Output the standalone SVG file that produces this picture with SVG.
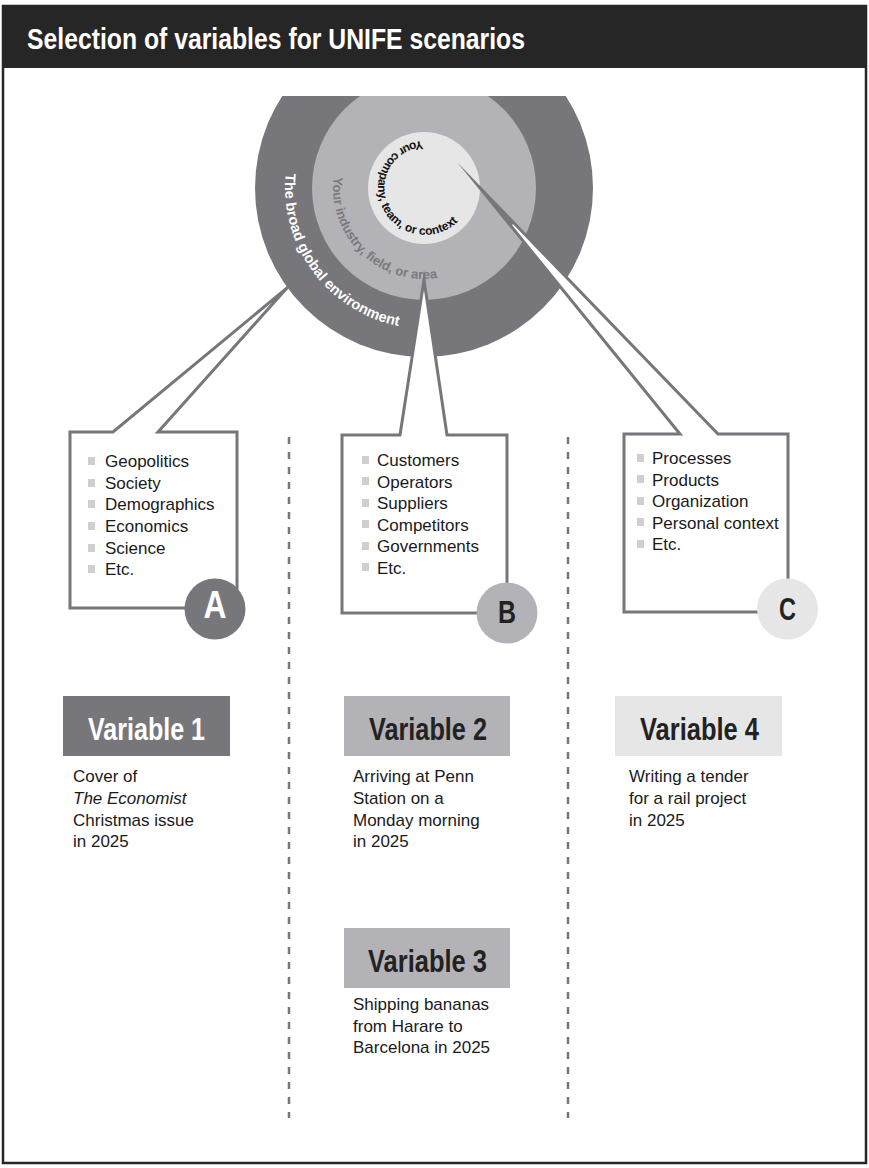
<svg xmlns="http://www.w3.org/2000/svg" width="869" height="1168" viewBox="0 0 869 1168">
<style>
.frame{fill:none;stroke:#262626;stroke-width:2.5}
.hdr{fill:#262626}
.title{font-family:"Liberation Sans",Arial,sans-serif;font-weight:bold;font-size:30px;fill:#ffffff}
.dark{fill:#77767a}
.mid{fill:#b3b2b6}
.light{fill:#e6e6e7}
.box{fill:#ffffff;stroke:#77767a;stroke-width:3;stroke-linejoin:miter;stroke-miterlimit:30}
.item{font-family:"Liberation Sans",Arial,sans-serif;font-size:17px;fill:#1a1a1a}
.bul{fill:#cfcfd0}
.desc{font-family:"Liberation Sans",Arial,sans-serif;font-size:17px;fill:#1a1a1a}
.vlab{font-family:"Liberation Sans",Arial,sans-serif;font-weight:bold;font-size:32px}
.letter{font-family:"Liberation Sans",Arial,sans-serif;font-weight:bold;text-anchor:middle}
.dash{stroke:#77767a;stroke-width:2.5;stroke-dasharray:7 8;fill:none}
.ring1{font-family:"Liberation Sans",Arial,sans-serif;font-weight:bold;font-size:14.5px;fill:#ffffff}
.ring2{font-family:"Liberation Sans",Arial,sans-serif;font-weight:bold;font-size:13px;fill:#7a797d}
.ring3{font-family:"Liberation Sans",Arial,sans-serif;font-weight:bold;font-size:12px;fill:#111111}
</style>
<defs>
<clipPath id="clipTop"><rect x="0" y="96" width="869" height="400"/></clipPath>
<path id="pOuter" d="M285.8,173.3 A141,141 0 0 0 448.5,326.9" fill="none"/>
<path id="pMid" d="M333.7,176.9 A91,91 0 0 0 455.1,273.5" fill="none"/>
<path id="pIn" d="M422.4,141.0 A47,47 0 1 0 469.2,204.1" fill="none"/>
<rect id="b" width="7" height="8" class="bul"/>
</defs>

<g id="frame">
<rect class="frame" x="3" y="6" width="863" height="1157"/>
<rect class="hdr" x="2" y="5" width="865" height="63"/>
<text class="title" x="27" y="49" textLength="498" lengthAdjust="spacingAndGlyphs">Selection of variables for UNIFE scenarios</text>
</g>

<g id="circles" clip-path="url(#clipTop)">
<circle class="dark" cx="424" cy="188" r="169"/>
<circle class="mid" cx="424" cy="188" r="112"/>
<circle class="light" cx="424" cy="188" r="56"/>
</g>
<g id="circle-labels">
<text class="ring1"><textPath href="#pOuter">The broad global environment</textPath></text>
<text class="ring2"><textPath href="#pMid">Your industry, field, or area</textPath></text>
<text class="ring3"><textPath href="#pIn">Your company, team, or context</textPath></text>
</g>

<g id="connectors">
<line class="dash" x1="289" y1="437" x2="289" y2="1118"/>
<line class="dash" x1="568" y1="437" x2="568" y2="1118"/>
</g>

<g id="boxA">
<path class="box" d="M113,432 L70,432 L70,608 L237,608 L237,432 L158,432 L287,288 Z"/>
<use href="#b" x="88" y="457"/><text class="item" x="105" y="467">Geopolitics</text>
<use href="#b" x="88" y="479"/><text class="item" x="105" y="489">Society</text>
<use href="#b" x="88" y="500"/><text class="item" x="105" y="510">Demographics</text>
<use href="#b" x="88" y="522"/><text class="item" x="105" y="532">Economics</text>
<use href="#b" x="88" y="544"/><text class="item" x="105" y="554">Science</text>
<use href="#b" x="88" y="565"/><text class="item" x="105" y="575">Etc.</text>
<circle class="dark" cx="215" cy="609" r="30.5"/>
<text class="letter" x="215" y="618" font-size="38" fill="#ffffff" textLength="23" lengthAdjust="spacingAndGlyphs">A</text>
</g>

<g id="boxB">
<path class="box" d="M400,435 L342,435 L342,613 L507,613 L507,435 L447,435 L424,280 Z"/>
<use href="#b" x="362" y="456"/><text class="item" x="377" y="466">Customers</text>
<use href="#b" x="362" y="477"/><text class="item" x="377" y="487.5">Operators</text>
<use href="#b" x="362" y="499"/><text class="item" x="377" y="509">Suppliers</text>
<use href="#b" x="362" y="520"/><text class="item" x="377" y="530.5">Competitors</text>
<use href="#b" x="362" y="542"/><text class="item" x="377" y="552">Governments</text>
<use href="#b" x="362" y="563"/><text class="item" x="377" y="573.5">Etc.</text>
<circle class="mid" cx="507" cy="613" r="30.5"/>
<text class="letter" x="507" y="623" font-size="32" fill="#222222" textLength="18" lengthAdjust="spacingAndGlyphs">B</text>
</g>

<g id="boxC">
<path class="box" d="M680,434 L624,434 L624,612 L788,612 L788,434 L718,434 L480,188 Z"/>
<polygon class="dark" points="479,186.5 481.5,188 514,224 509,226"/>
<use href="#b" x="637" y="454"/><text class="item" x="652" y="464">Processes</text>
<use href="#b" x="637" y="475"/><text class="item" x="652" y="485.5">Products</text>
<use href="#b" x="637" y="497"/><text class="item" x="652" y="507">Organization</text>
<use href="#b" x="637" y="518"/><text class="item" x="652" y="528.5">Personal context</text>
<use href="#b" x="637" y="540"/><text class="item" x="652" y="550">Etc.</text>
<circle class="light" cx="787.5" cy="609" r="30.5"/>
<text class="letter" x="787.5" y="620" font-size="32" fill="#222222" textLength="17" lengthAdjust="spacingAndGlyphs">C</text>
</g>

<g id="variable1">
<rect class="dark" x="63" y="696" width="167" height="60"/>
<text class="vlab" x="88" y="740" fill="#ffffff" textLength="117" lengthAdjust="spacingAndGlyphs">Variable 1</text>
<text class="desc" x="73" y="782">Cover of</text>
<text class="desc" x="73" y="804" font-style="italic">The Economist</text>
<text class="desc" x="73" y="826">Christmas issue</text>
<text class="desc" x="73" y="847">in 2025</text>
</g>

<g id="variable2">
<rect class="mid" x="344" y="696" width="166" height="60"/>
<text class="vlab" x="369" y="740" fill="#222222" textLength="118" lengthAdjust="spacingAndGlyphs">Variable 2</text>
<text class="desc" x="353" y="782">Arriving at Penn</text>
<text class="desc" x="353" y="804">Station on a</text>
<text class="desc" x="353" y="826">Monday morning</text>
<text class="desc" x="353" y="847">in 2025</text>
</g>

<g id="variable3">
<rect class="mid" x="344" y="928" width="166" height="60"/>
<text class="vlab" x="368" y="972" fill="#222222" textLength="119" lengthAdjust="spacingAndGlyphs">Variable 3</text>
<text class="desc" x="353" y="1010">Shipping bananas</text>
<text class="desc" x="353" y="1031.5">from Harare to</text>
<text class="desc" x="353" y="1053">Barcelona in 2025</text>
</g>

<g id="variable4">
<rect class="light" x="615" y="696" width="167" height="60"/>
<text class="vlab" x="640" y="740" fill="#222222" textLength="119" lengthAdjust="spacingAndGlyphs">Variable 4</text>
<text class="desc" x="629" y="782">Writing a tender</text>
<text class="desc" x="629" y="804">for a rail project</text>
<text class="desc" x="629" y="826">in 2025</text>
</g>
</svg>
